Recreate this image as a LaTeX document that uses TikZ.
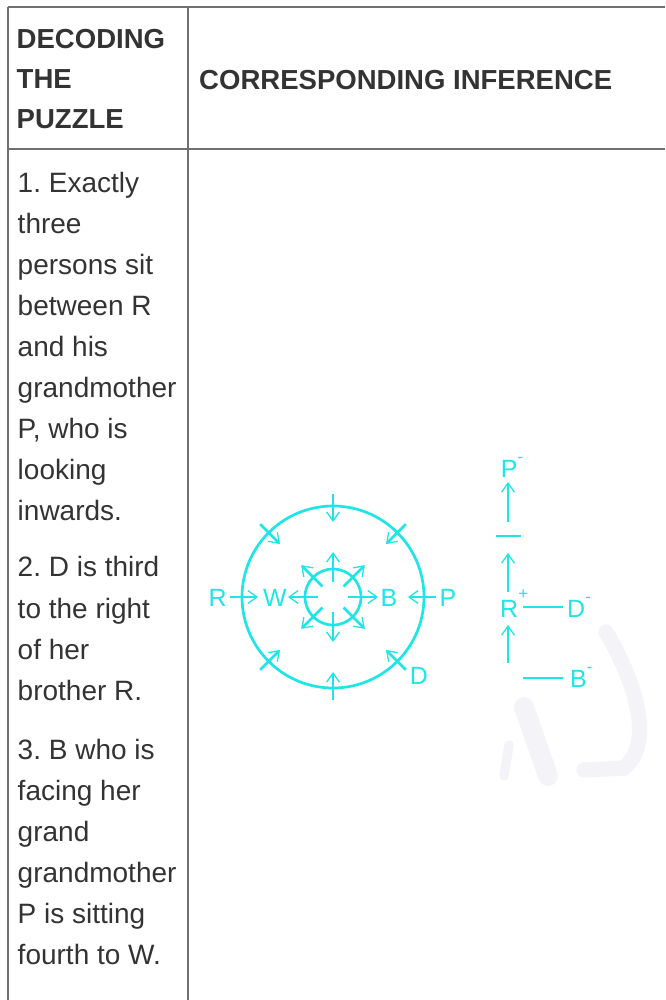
\documentclass[tikz,border=0pt]{standalone}
\usepackage{fontspec}
\setmainfont{Liberation Sans}
\usetikzlibrary{arrows.meta,positioning}
\definecolor{seatcyan}{RGB}{30,230,230}
\definecolor{rulegray}{RGB}{112,112,112}
\definecolor{inkgray}{RGB}{51,51,51}
\definecolor{markfaint}{RGB}{243,243,248}
\tikzset{grid/.style={draw=rulegray,line width=1.45pt},
  head/.style={anchor=base west,inner sep=0pt,align=left,text=inkgray,font=\bfseries\fontsize{23.5}{34.1}\selectfont},
  body/.style={anchor=base west,inner sep=0pt,align=left,text=inkgray,font=\fontsize{23.9}{35}\selectfont\frenchspacing},
  who/.style={inner sep=0pt,text=seatcyan,font=\fontsize{21.3}{21.3}\selectfont},
  ring/.style={draw=seatcyan,line width=2.3pt},
  face/.style={draw=seatcyan,line width=2.3pt,-{Straight Barb[length=7.7pt,width=11pt,line width=1.1pt]}},
  link/.style={draw=seatcyan,line width=2.3pt},
  wmark/.style={draw=markfaint,line cap=round}}
\newcommand\sgn[2]{\raisebox{#1em}{\fontsize{14.5}{14.5}\selectfont#2}}

\begin{document}
\begin{tikzpicture}[x=0.03cm,y=-0.03cm]
\useasboundingbox (0,0) rectangle (665,1000);
% faint mark in the background
\draw[wmark,line width=17pt] (524,707) -- (548,776);
\draw[wmark,line width=8pt] (509,745) -- (504,776);
\draw[wmark,line width=13pt] (606,632) .. controls (640,690) and (652,745) .. (624,768) -- (584,770);
% table
\draw[grid] (8,7) -- (665,7);
\draw[grid] (8,149) -- (665,149);
\draw[grid] (8,7) -- (8,1000);
\draw[grid] (188,7) -- (188,1000);
% base of a multi-line node = last line
\node[head] (colA) at (16.5,128.3) {DECODING\\THE\\PUZZLE};
\node[head] (colB) at (199,89.3) {CORRESPONDING INFERENCE};
\node[body] (clue1) at (17.5,520.5) {1. Exactly\\three\\persons sit\\between R\\and his\\grandmother\\P, who is\\looking\\inwards.};
\node[body] (clue2) at (17.5,700) {2. D is third\\to the right\\of her\\brother R.};
\node[body] (clue3) at (17.5,964.5) {3. B who is\\facing her\\grand\\grandmother\\P is sitting\\fourth to W.};
% circular seating
\coordinate (ctr) at (333,597);
\draw[ring] (ctr) circle[radius=91];
\draw[ring] (ctr) circle[radius=28];
\foreach \a in {0,45,...,315}{
  \draw[face] ([shift={(\a:103)}]ctr) -- ([shift={(\a:75)}]ctr);
  \draw[face] ([shift={(\a:15)}]ctr) -- ([shift={(\a:45)}]ctr);
}
\node[who] (r) at (217.6,598) {R};
\node[who] (w) at (275,598) {W};
\node[who] (b) at (389,598) {B};
\node[who] (p) at (448,598) {P};
\node[who] (d) at (419,676) {D};
% family tree
\node[who,anchor=base west] (pt) at (500.7,477) {P\sgn{0.6}{-}};
\node[who,anchor=base west] (rt) at (500,617) {R\sgn{0.72}{+}};
\node[who,anchor=base west] (dt) at (567,617) {D\sgn{0.6}{-}};
\node[who,anchor=base west] (bt) at (570,687) {B\sgn{0.6}{-}};
\coordinate (genA) at (508,522);
\coordinate (genAt) at (508,482);
\coordinate (gapL) at (496,536);
\coordinate (gapR) at (521,536);
\coordinate (genB) at (508,592);
\coordinate (genBt) at (508,553);
\coordinate (sibL) at (523,607);
\coordinate (sibR) at (563,607);
\coordinate (genC) at (508,663);
\coordinate (genCt) at (508,625);
\coordinate (bL) at (523,678);
\coordinate (bR) at (563,678);
\draw[face] (genA) -- (genAt);
\draw[link] (gapL) -- (gapR);
\draw[face] (genB) -- (genBt);
\draw[link] (sibL) -- (sibR);
\draw[face] (genC) -- (genCt);
\draw[link] (bL) -- (bR);
\end{tikzpicture}
\end{document}
